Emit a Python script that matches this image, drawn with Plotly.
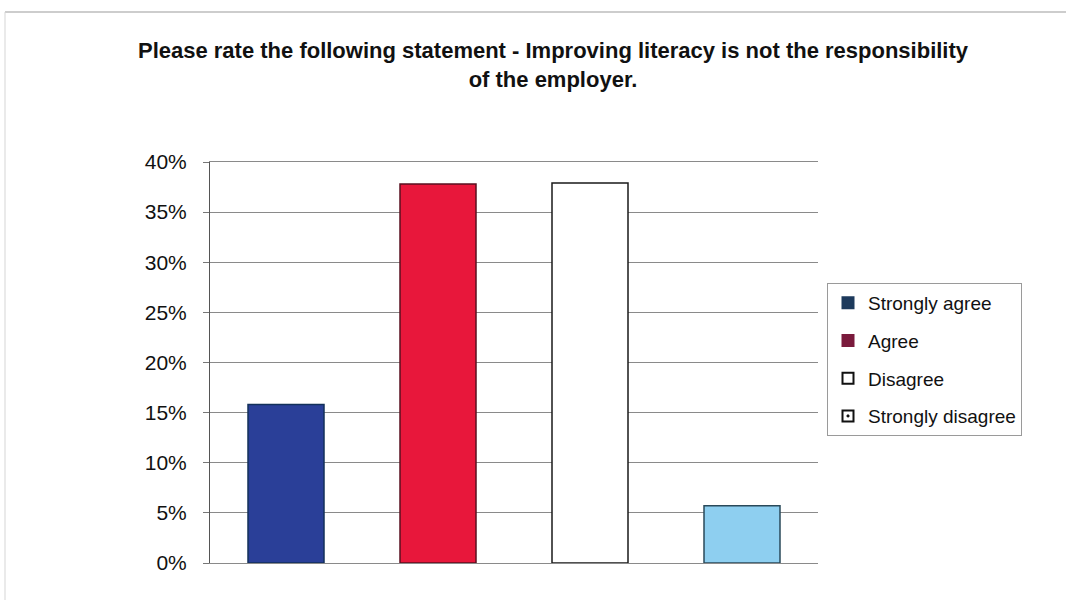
import plotly.graph_objects as go

# Survey responses (share of respondents)
categories = ["Strongly agree", "Agree", "Disagree", "Strongly disagree"]
shares = [0.158, 0.378, 0.379, 0.057]

bar_fill = ["#2a3f98", "#e8173b", "#ffffff", "#8ecff0"]
bar_edge = ["#13305a", "#5a1020", "#1a1a1a", "#2a4a5a"]

# legend swatches: (fill, outline, symbol)
legend_style = [
    ("#1d3a5c", "#1d3a5c", "square"),
    ("#7a1a3c", "#7a1a3c", "square"),
    ("#ffffff", "#111111", "square"),
    ("#ffffff", "#111111", "square-dot"),
]

y_ticks = [0, 0.05, 0.10, 0.15, 0.20, 0.25, 0.30, 0.35, 0.40]
y_tick_text = ["0%", "5%", "10%", "15%", "20%", "25%", "30%", "35%", "40%"]

FONT = "Liberation Sans, Arial, sans-serif"

fig = go.Figure()

for i, (cat, val) in enumerate(zip(categories, shares)):
    fig.add_trace(go.Bar(
        x=[cat], y=[val], width=0.5,
        marker=dict(color=bar_fill[i], line=dict(color=bar_edge[i], width=1.5)),
        showlegend=False, hoverinfo="x+y",
    ))

for i, cat in enumerate(categories):
    fill, edge, sym = legend_style[i]
    fig.add_trace(go.Scatter(
        x=[None], y=[None], mode="markers", name=cat, legendgroup=cat,
        marker=dict(symbol=sym, size=11, color=fill, line=dict(color=edge, width=2)),
    ))

W, H = 1066, 612
L, R, T, B = 210, 248, 162, 49
pw, ph = W - L - R, H - T - B

fig.update_layout(
    width=W, height=H,
    margin=dict(l=L, r=R, t=T, b=B, autoexpand=False),
    paper_bgcolor="white", plot_bgcolor="white",
    barmode="overlay",
    font=dict(family=FONT, color="#111111"),
    title=dict(
        text="Please rate the following statement - Improving literacy is not the responsibility<br>of the employer.",
        x=553 / W, xanchor="center", xref="container",
        y=1 - 58 / H, yanchor="top", yref="container",
        font=dict(family=FONT, size=22, color="#111111", weight="bold"),
    ),
    xaxis=dict(
        type="category", categoryorder="array", categoryarray=categories,
        showticklabels=False, showgrid=False, zeroline=False,
        showline=True, mirror=True, linecolor="#8a8a8a", linewidth=1, ticks="",
    ),
    yaxis=dict(
        range=[0, 0.40], tickvals=y_ticks, ticktext=y_tick_text,
        showgrid=True, gridcolor="#8a8a8a", gridwidth=1,
        zeroline=False, showline=True, linecolor="#555555", linewidth=1,
        ticks="outside", ticklen=6, tickcolor="#777777",
        ticklabelstandoff=12,
        tickfont=dict(family=FONT, size=21, color="#111111"),
    ),
    legend=dict(
        x=(827 - L) / pw, xanchor="left",
        y=(H - B - 283) / ph, yanchor="top",
        bgcolor="white", bordercolor="#9a9a9a", borderwidth=1,
        font=dict(family=FONT, size=19, color="#111111"),
        tracegroupgap=10, itemwidth=30,
    ),
    shapes=[
        dict(type="line", xref="paper", yref="paper",
             x0=(5 - L) / pw, x1=(W - L) / pw,
             y0=(H - B - 12) / ph, y1=(H - B - 12) / ph,
             line=dict(color="#bdbdbd", width=1.5)),
        dict(type="line", xref="paper", yref="paper",
             x0=(5 - L) / pw, x1=(5 - L) / pw,
             y0=(H - B - 12) / ph, y1=(H - B - 600) / ph,
             line=dict(color="#d5d5d5", width=1)),
    ],
)

fig.write_html("out.html")
